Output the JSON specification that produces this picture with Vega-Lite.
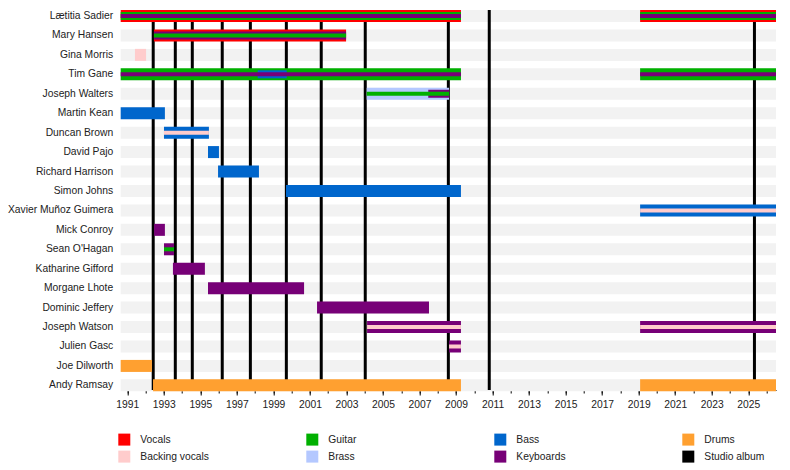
{
  "$schema": "https://vega.github.io/schema/vega-lite/v6.json",
  "autosize": "none",
  "padding": {"left": 120.7, "top": 10, "right": 14, "bottom": 80},
  "width": 655.3,
  "height": 380,
  "config": {
    "view": {"stroke": null},
    "font": "Liberation Sans",
    "axisY": {"domain": false, "ticks": false, "labelPadding": 8, "labelFontSize": 10.3, "labelColor": "#222", "title": null},
    "legend": {
      "orient": "none", "legendX": -2.4, "legendY": 423.6, "columns": 4,
      "symbolType": "square", "symbolSize": 144, "symbolStrokeWidth": 0, "symbolOpacity": 1,
      "labelFontSize": 10.3, "labelColor": "#222", "labelOffset": 10,
      "rowPadding": 5, "columnPadding": 97, "gridAlign": "all", "padding": 0
    }
  },
  "datasets": {
    "members": [
      {"member": "Lætitia Sadier"}, {"member": "Mary Hansen"}, {"member": "Gina Morris"},
      {"member": "Tim Gane"}, {"member": "Joseph Walters"}, {"member": "Martin Kean"},
      {"member": "Duncan Brown"}, {"member": "David Pajo"}, {"member": "Richard Harrison"},
      {"member": "Simon Johns"}, {"member": "Xavier Muñoz Guimera"}, {"member": "Mick Conroy"},
      {"member": "Sean O'Hagan"}, {"member": "Katharine Gifford"}, {"member": "Morgane Lhote"},
      {"member": "Dominic Jeffery"}, {"member": "Joseph Watson"}, {"member": "Julien Gasc"},
      {"member": "Joe Dilworth"}, {"member": "Andy Ramsay"}
    ],
    "roles": [
      {"member": "Lætitia Sadier", "role": "Vocals", "rank": 1, "start": 1990.64, "end": 2009.27},
      {"member": "Lætitia Sadier", "role": "Guitar", "rank": 2, "start": 1990.64, "end": 2009.27},
      {"member": "Lætitia Sadier", "role": "Keyboards", "rank": 3, "start": 1990.64, "end": 2009.27},
      {"member": "Lætitia Sadier", "role": "Vocals", "rank": 1, "start": 2019.08, "end": 2026.52},
      {"member": "Lætitia Sadier", "role": "Guitar", "rank": 2, "start": 2019.08, "end": 2026.52},
      {"member": "Lætitia Sadier", "role": "Keyboards", "rank": 3, "start": 2019.08, "end": 2026.52},
      {"member": "Mary Hansen", "role": "Vocals", "rank": 1, "start": 1992.46, "end": 2002.98},
      {"member": "Mary Hansen", "role": "Keyboards", "rank": 2, "start": 1992.46, "end": 2002.98},
      {"member": "Mary Hansen", "role": "Guitar", "rank": 3, "start": 1992.46, "end": 2002.98},
      {"member": "Gina Morris", "role": "Backing vocals", "rank": 1, "start": 1991.42, "end": 1992.03},
      {"member": "Tim Gane", "role": "Guitar", "rank": 1, "start": 1990.64, "end": 2009.27},
      {"member": "Tim Gane", "role": "Bass", "rank": 2, "start": 1998.14, "end": 1999.73},
      {"member": "Tim Gane", "role": "Keyboards", "rank": 3, "start": 1990.64, "end": 2009.27},
      {"member": "Tim Gane", "role": "Guitar", "rank": 1, "start": 2019.08, "end": 2026.52},
      {"member": "Tim Gane", "role": "Keyboards", "rank": 3, "start": 2019.08, "end": 2026.52},
      {"member": "Joseph Walters", "role": "Brass", "rank": 1, "start": 2004.11, "end": 2008.62},
      {"member": "Joseph Walters", "role": "Keyboards", "rank": 2, "start": 2007.48, "end": 2008.62},
      {"member": "Joseph Walters", "role": "Guitar", "rank": 3, "start": 2004.11, "end": 2008.62},
      {"member": "Martin Kean", "role": "Bass", "rank": 1, "start": 1990.64, "end": 1993.06},
      {"member": "Duncan Brown", "role": "Bass", "rank": 1, "start": 1993.01, "end": 1995.47},
      {"member": "Duncan Brown", "role": "Backing vocals", "rank": 3, "start": 1993.01, "end": 1995.47},
      {"member": "David Pajo", "role": "Bass", "rank": 1, "start": 1995.42, "end": 1996.02},
      {"member": "Richard Harrison", "role": "Bass", "rank": 1, "start": 1995.97, "end": 1998.21},
      {"member": "Simon Johns", "role": "Bass", "rank": 1, "start": 1999.69, "end": 2009.27},
      {"member": "Xavier Muñoz Guimera", "role": "Bass", "rank": 1, "start": 2019.08, "end": 2026.52},
      {"member": "Xavier Muñoz Guimera", "role": "Backing vocals", "rank": 3, "start": 2019.08, "end": 2026.52},
      {"member": "Mick Conroy", "role": "Keyboards", "rank": 1, "start": 1992.47, "end": 1993.06},
      {"member": "Sean O'Hagan", "role": "Keyboards", "rank": 1, "start": 1993.01, "end": 1993.56},
      {"member": "Sean O'Hagan", "role": "Guitar", "rank": 3, "start": 1993.01, "end": 1993.56},
      {"member": "Katharine Gifford", "role": "Keyboards", "rank": 1, "start": 1993.5, "end": 1995.25},
      {"member": "Morgane Lhote", "role": "Keyboards", "rank": 1, "start": 1995.42, "end": 2000.68},
      {"member": "Dominic Jeffery", "role": "Keyboards", "rank": 1, "start": 2001.39, "end": 2007.52},
      {"member": "Joseph Watson", "role": "Keyboards", "rank": 1, "start": 2004.13, "end": 2009.27},
      {"member": "Joseph Watson", "role": "Backing vocals", "rank": 3, "start": 2004.13, "end": 2009.27},
      {"member": "Joseph Watson", "role": "Keyboards", "rank": 1, "start": 2019.08, "end": 2026.52},
      {"member": "Joseph Watson", "role": "Backing vocals", "rank": 3, "start": 2019.08, "end": 2026.52},
      {"member": "Julien Gasc", "role": "Keyboards", "rank": 1, "start": 2008.62, "end": 2009.27},
      {"member": "Julien Gasc", "role": "Backing vocals", "rank": 3, "start": 2008.62, "end": 2009.27},
      {"member": "Joe Dilworth", "role": "Drums", "rank": 1, "start": 1990.64, "end": 1992.35},
      {"member": "Andy Ramsay", "role": "Drums", "rank": 1, "start": 1992.41, "end": 2009.27},
      {"member": "Andy Ramsay", "role": "Drums", "rank": 1, "start": 2019.08, "end": 2026.52}
    ],
    "albums": [
      {"album": "Peng!", "year": 1992.42, "role": "Studio album"},
      {"album": "Transient Random-Noise Bursts with Announcements", "year": 1993.63, "role": "Studio album"},
      {"album": "Mars Audiac Quintet", "year": 1994.56, "role": "Studio album"},
      {"album": "Emperor Tomato Ketchup", "year": 1996.2, "role": "Studio album"},
      {"album": "Dots and Loops", "year": 1997.74, "role": "Studio album"},
      {"album": "Cobra and Phases Group Play Voltage in the Milky Night", "year": 1999.71, "role": "Studio album"},
      {"album": "Sound-Dust", "year": 2001.62, "role": "Studio album"},
      {"album": "Margerine Eclipse", "year": 2004.03, "role": "Studio album"},
      {"album": "Chemical Chords", "year": 2008.58, "role": "Studio album"},
      {"album": "Not Music", "year": 2010.82, "role": "Studio album"},
      {"album": "Instant Holograms on Metal Film", "year": 2025.34, "role": "Studio album"}
    ]
  },
  "resolve": {"axis": {"x": "independent"}},
  "layer": [
    {
      "data": {"name": "members"},
      "mark": {"type": "bar", "size": 12, "color": "#f2f2f2"},
      "encoding": {
        "y": {
          "field": "member", "type": "nominal", "sort": null,
          "scale": {"range": [-3.72, 385.08], "paddingInner": 0, "paddingOuter": 0}
        },
        "x": {
          "datum": 1990.64, "type": "quantitative",
          "scale": {"domain": [1990.64, 2026.52], "nice": false, "zero": false},
          "axis": {
            "orient": "bottom", "title": null, "labels": false, "grid": false,
            "values": [1991, 1992, 1993, 1994, 1995, 1996, 1997, 1998, 1999, 2000, 2001, 2002, 2003, 2004, 2005, 2006, 2007, 2008, 2009, 2010, 2011, 2012, 2013, 2014, 2015, 2016, 2017, 2018, 2019, 2020, 2021, 2022, 2023, 2024, 2025, 2026],
            "tickSize": 3, "tickColor": "#000", "domainColor": "#000"
          }
        },
        "x2": {"datum": 2026.52}
      }
    },
    {
      "data": {"name": "albums"},
      "mark": {"type": "rule", "strokeWidth": 3},
      "encoding": {
        "x": {"field": "year", "type": "quantitative", "axis": null},
        "color": {"field": "role", "type": "nominal"}
      }
    },
    {
      "data": {"name": "roles"},
      "transform": [{"filter": "datum.rank == 1"}],
      "mark": {"type": "bar", "size": 12},
      "encoding": {
        "y": {"field": "member", "type": "nominal", "sort": null},
        "x": {
          "field": "start", "type": "quantitative",
          "axis": {
            "orient": "bottom", "title": null, "domain": false, "grid": false,
            "values": [1991, 1993, 1995, 1997, 1999, 2001, 2003, 2005, 2007, 2009, 2011, 2013, 2015, 2017, 2019, 2021, 2023, 2025],
            "format": "d", "tickSize": 5, "tickColor": "#000",
            "labelFontSize": 10.3, "labelColor": "#222", "labelPadding": 4
          }
        },
        "x2": {"field": "end"},
        "color": {
          "field": "role", "type": "nominal",
          "scale": {
            "domain": ["Vocals", "Backing vocals", "Guitar", "Brass", "Bass", "Keyboards", "Drums", "Studio album"],
            "range": ["#ff0000", "#ffcccc", "#00b000", "#b4c8ff", "#0066cc", "#770077", "#ffa030", "#000000"]
          },
          "legend": {"title": null}
        }
      }
    },
    {
      "data": {"name": "roles"},
      "transform": [{"filter": "datum.rank == 2"}],
      "mark": {"type": "bar", "size": 8},
      "encoding": {
        "y": {"field": "member", "type": "nominal", "sort": null},
        "x": {"field": "start", "type": "quantitative", "axis": null},
        "x2": {"field": "end"},
        "color": {"field": "role", "type": "nominal"}
      }
    },
    {
      "data": {"name": "roles"},
      "transform": [{"filter": "datum.rank == 3"}],
      "mark": {"type": "bar", "size": 4},
      "encoding": {
        "y": {"field": "member", "type": "nominal", "sort": null},
        "x": {"field": "start", "type": "quantitative", "axis": null},
        "x2": {"field": "end"},
        "color": {"field": "role", "type": "nominal"}
      }
    }
  ]
}
